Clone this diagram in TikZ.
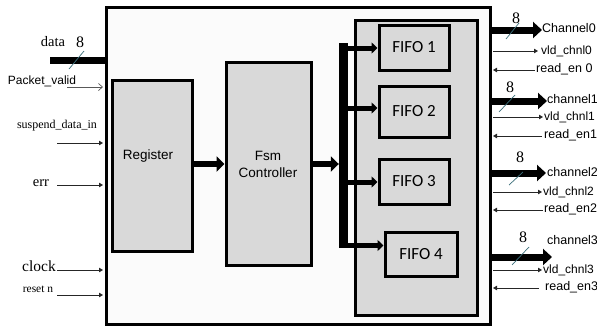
\documentclass[tikz,border=0pt]{standalone}
\usepackage{fontspec}
\setmainfont{Liberation Serif}
\setsansfont{Liberation Sans}
\newfontfamily\fifofont{Carlito}
\usetikzlibrary{arrows.meta}
\definecolor{outerfill}{HTML}{FBFBFB}
\definecolor{boxgray}{HTML}{D9D9D9}
\definecolor{slashcol}{HTML}{3A6E7A}
\tikzset{
  blk/.style={draw, line width=3pt, fill=boxgray, inner sep=0pt},
  bigarrow/.style={line width=6pt, -{Triangle[length=8pt,width=15pt]}},
  busarrow/.style={line width=5pt, -{Triangle[length=6pt,width=11pt]}},
  outarrow/.style={line width=7pt, -{Triangle[length=9pt,width=16pt]}},
  thinarr/.style={line width=0.9pt, draw=black!85, -{Triangle[length=4pt,width=4.5pt]}},
  busmark/.style={draw=slashcol, line width=0.7pt},
  serlab/.style={font=\rmfamily\fontsize{#1}{#1}\selectfont, inner sep=0pt},
  sanlab/.style={font=\sffamily\fontsize{#1}{#1}\selectfont, inner sep=0pt},
}
\begin{document}
\begin{tikzpicture}[x=1pt,y=-1pt]
\useasboundingbox (0,0) rectangle (597,327);
% main box
\node[draw, line width=3pt, fill=outerfill, minimum width=384pt, minimum height=317pt, inner sep=0pt] (outer) at (298,165.5) {};
\coordinate (ow) at ([xshift=-1.5pt]outer.west);
\coordinate (oe) at ([xshift=1.5pt]outer.east);
% inner blocks
\node[blk, minimum width=80pt, minimum height=171pt] (reg) at (152,165.5) {};
\node[sanlab=13.5] (regtxt) at (148,156) {Register};
\node[blk, minimum width=85pt, minimum height=203pt] (fsm) at (268.5,163.5) {};
\node[sanlab=13.5, align=center] (fsmtxt) at (268,164.5) {Fsm\\[3pt]Controller};
\node[blk, minimum width=122pt, minimum height=295pt] (cont) at (416,167.5) {};
\node[blk, minimum width=70pt, minimum height=45pt, font=\fifofont\fontsize{17}{17}\selectfont] (f1) at (414,47.5) {FIFO 1};
\node[blk, minimum width=70pt, minimum height=51pt, font=\fifofont\fontsize{17}{17}\selectfont] (f2) at (414,111.5) {FIFO 2};
\node[blk, minimum width=70pt, minimum height=45pt, font=\fifofont\fontsize{17}{17}\selectfont] (f3) at (414,181.5) {FIFO 3};
\node[blk, minimum width=72pt, minimum height=44pt, font=\fifofont\fontsize{17}{17}\selectfont] (f4) at (421,254) {FIFO 4};
% bus
\node[fill=black, minimum width=9pt, minimum height=205pt, inner sep=0pt] (bus) at (343.5,145.5) {};
\draw[bigarrow] (reg.east |- 0,164) -- (fsm.west |- 0,164);
\draw[bigarrow] (fsm.east |- 0,164) -- (bus.west |- 0,164);
\coordinate (b1) at (347,48);
\coordinate (b2) at (347,108);
\coordinate (b3) at (347,182);
\coordinate (b4) at (347,245.5);
\draw[busarrow] (b1) -- (b1 -| f1.west);
\draw[busarrow] (b2) -- (b2 -| f2.west);
\draw[busarrow] (b3) -- (b3 -| f3.west);
\draw[busarrow] (b4) -- (b4 -| f4.west);
% left inputs
\node[serlab=14.5] (ldata) at (53,42) {data};
\node[serlab=16] (ldata8) at (80,42) {8};
\coordinate (idata) at (50,60);
\draw[line width=7pt] (idata) -- (idata -| outer.west);
\draw[busmark] (69,69) -- (84,51);
\node[sanlab=12] (lpv) at (42,81) {Packet\_valid};
\coordinate (ipv) at (67,87);
\draw[line width=0.7pt, draw=black!65, -{Straight Barb[length=4pt,width=7pt]}] (ipv) -- (ipv -| ow);
\node[serlab=12] (lsus) at (57,126) {suspend\_data\_in};
\coordinate (isus) at (57,143);
\draw[thinarr] (isus) -- (isus -| ow);
\node[serlab=14.5] (lerr) at (41,183) {err};
\coordinate (ierr) at (57,185);
\draw[thinarr] (ierr) -- (ierr -| ow);
\node[serlab=15.5] (lclk) at (39,266) {clock};
\coordinate (iclk) at (57,270);
\draw[thinarr] (iclk) -- (iclk -| ow);
\node[serlab=11.5] (lrst) at (38,289) {reset n};
\coordinate (irst) at (57,295);
\draw[thinarr] (irst) -- (irst -| ow);
% right outputs: channel 0
\coordinate (c0) at (542,30);
\draw[outarrow] (c0 -| outer.east) -- (c0);
\node[serlab=16] (n0) at (516,18) {8};
\draw[busmark] (506,39) -- (519,23);
\node[sanlab=12.5, anchor=west] (lc0) at (542,28) {Channel0};
\coordinate (v0) at (538,51);
\draw[thinarr] (v0 -| oe) -- (v0);
\node[sanlab=12, anchor=west] (lv0) at (541,51) {vld\_chnl0};
\coordinate (r0) at (535,70);
\draw[thinarr] (r0) -- (r0 -| oe);
\node[sanlab=12.5, anchor=west] (lr0) at (536,69) {read\_en 0};
% channel 1
\coordinate (c1) at (547,101);
\draw[outarrow] (c1 -| outer.east) -- (c1);
\node[serlab=16] (n1) at (510,87) {8};
\draw[busmark] (499,112) -- (515,95);
\node[sanlab=12.5, anchor=west] (lc1) at (547,99) {channel1};
\coordinate (v1) at (543,117);
\draw[thinarr] (v1 -| oe) -- (v1);
\node[sanlab=12, anchor=west] (lv1) at (544,117) {vld\_chnl1};
\coordinate (r1) at (542,136);
\draw[thinarr] (r1) -- (r1 -| oe);
\node[sanlab=12.5, anchor=west] (lr1) at (544,135) {read\_en1};
% channel 2
\coordinate (c2) at (546,173);
\draw[outarrow] (c2 -| outer.east) -- (c2);
\node[serlab=16] (n2) at (520,157) {8};
\draw[busmark] (509,185) -- (523,172);
\node[sanlab=12.5, anchor=west] (lc2) at (547,172) {channel2};
\coordinate (v2) at (542,192);
\draw[thinarr] (v2 -| oe) -- (v2);
\node[sanlab=12, anchor=west] (lv2) at (543,192) {vld\_chnl2};
\coordinate (r2) at (543,210);
\draw[thinarr] (r2) -- (r2 -| oe);
\node[sanlab=12.5, anchor=west] (lr2) at (544,209) {read\_en2};
% channel 3
\coordinate (c3) at (552,257);
\draw[outarrow] (c3 -| outer.east) -- (c3);
\node[serlab=16] (n3) at (523,237) {8};
\draw[busmark] (512,265) -- (529,247);
\node[sanlab=12.5, anchor=west] (lc3) at (547,240) {channel3};
\coordinate (v3) at (542,270);
\draw[thinarr] (v3 -| oe) -- (v3);
\node[sanlab=12, anchor=west] (lv3) at (543,270) {vld\_chnl3};
\coordinate (r3) at (539,288);
\draw[thinarr] (r3) -- (r3 -| oe);
\node[sanlab=12.5, anchor=west] (lr3) at (545,287) {read\_en3};
\end{tikzpicture}
\end{document}
